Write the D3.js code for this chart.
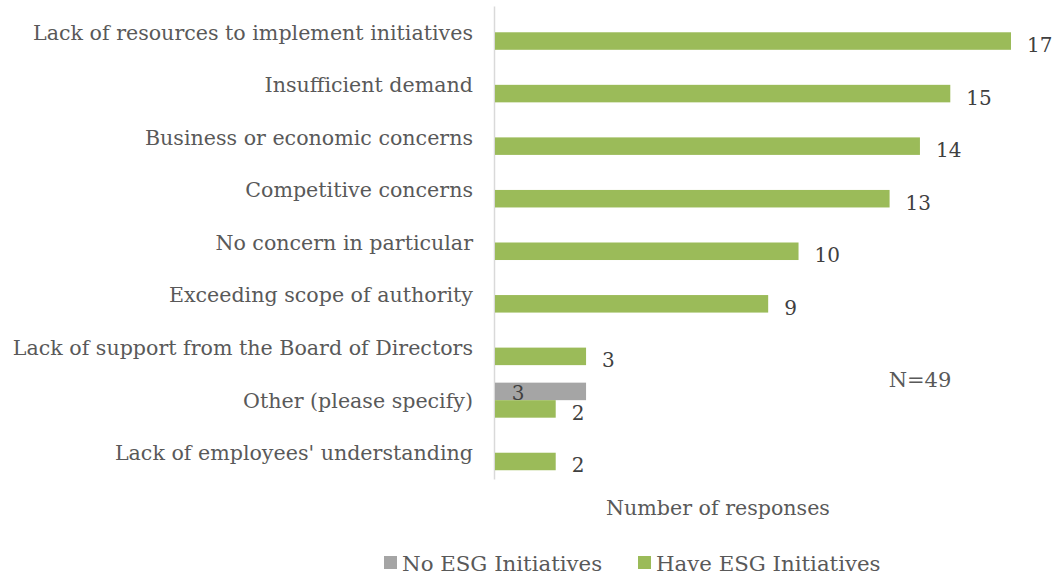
<!DOCTYPE html>
<html>
<head>
<meta charset="utf-8">
<script src="https://cdn.jsdelivr.net/npm/d3@7"></script>
<style>
  html, body { margin: 0; padding: 0; background: #fff; }
  svg { display: block; }
  text { font-family: Georgia, "DejaVu Serif", serif; }
</style>
</head>
<body>
<svg id="chart" width="1052" height="576"></svg>
<script>
// Obstacles to ESG initiatives, number of responses by group
const categories = [
  "Lack of resources to implement initiatives",
  "Insufficient demand",
  "Business or economic concerns",
  "Competitive concerns",
  "No concern in particular",
  "Exceeding scope of authority",
  "Lack of support from the Board of Directors",
  "Other (please specify)",
  "Lack of employees' understanding"
];
const seriesNames = ["No ESG Initiatives", "Have ESG Initiatives"];
const noEsg   = [null, null, null, null, null, null, null, 3, null];
const haveEsg = [17, 15, 14, 13, 10, 9, 3, 2, 2];
const seriesColors = ["#A5A5A5", "#9BBB59"];
const sampleNote = "N=49";
const axisTitle = "Number of responses";

const svg = d3.select("#chart");

const x = d3.scaleLinear().domain([0, 17]).range([495, 1011]);
const y = d3.scaleBand().domain(categories).range([6, 479])
  .paddingInner(1 / 3).paddingOuter(1 / 6);
const ySub = d3.scaleBand().domain(seriesNames).range([0, y.bandwidth()]);

const seriesValues = [noEsg, haveEsg];

// category axis (left)
const yAxis = d3.axisLeft(y).tickSize(0).tickPadding(21);
const gy = svg.append("g").attr("transform", `translate(${x(0) - 1},0)`).call(yAxis);
gy.select(".domain").attr("stroke", "#D9D9D9").attr("stroke-width", 1.5);
gy.selectAll(".tick text")
  .attr("fill", "#595959")
  .style("font-size", "20.6px")
  .attr("dy", "0.36em");

// bars
seriesNames.forEach((name, si) => {
  const rows = categories.map((c, i) => ({ c, v: seriesValues[si][i] }))
    .filter(d => d.v != null);
  svg.append("g").selectAll("rect").data(rows).join("rect")
    .attr("x", x(0))
    .attr("y", d => y(d.c) + ySub(name))
    .attr("width", d => x(d.v) - x(0))
    .attr("height", ySub.bandwidth())
    .attr("fill", seriesColors[si]);

  // value labels
  svg.append("g").selectAll("text").data(rows).join("text")
    .attr("x", d => si === 0 ? x(0) + 23 : x(d.v) + 16)
    .attr("y", d => y(d.c) + ySub(name) + ySub.bandwidth() / 2 + (si === 0 ? 9 : 11))
    .attr("text-anchor", si === 0 ? "middle" : "start")
    .attr("fill", "#404040")
    .style("font-size", "20px")
    .text(d => d.v);
});

// axis title and sample size
svg.append("text")
  .attr("x", 718).attr("y", 515)
  .attr("text-anchor", "middle")
  .attr("fill", "#595959")
  .style("font-size", "20.6px")
  .text(axisTitle);

svg.append("text")
  .attr("x", 920).attr("y", 387)
  .attr("text-anchor", "middle")
  .attr("fill", "#595959")
  .style("font-size", "21px")
  .text(sampleNote);

// legend
const legendX = [384, 638];
const legend = svg.append("g");
seriesNames.forEach((name, i) => {
  legend.append("rect")
    .attr("x", legendX[i]).attr("y", 556)
    .attr("width", 13).attr("height", 13)
    .attr("fill", seriesColors[i]);
  legend.append("text")
    .attr("x", legendX[i] + 18).attr("y", 571)
    .attr("fill", "#595959")
    .style("font-size", "21.3px")
    .text(name);
});
</script>
</body>
</html>
